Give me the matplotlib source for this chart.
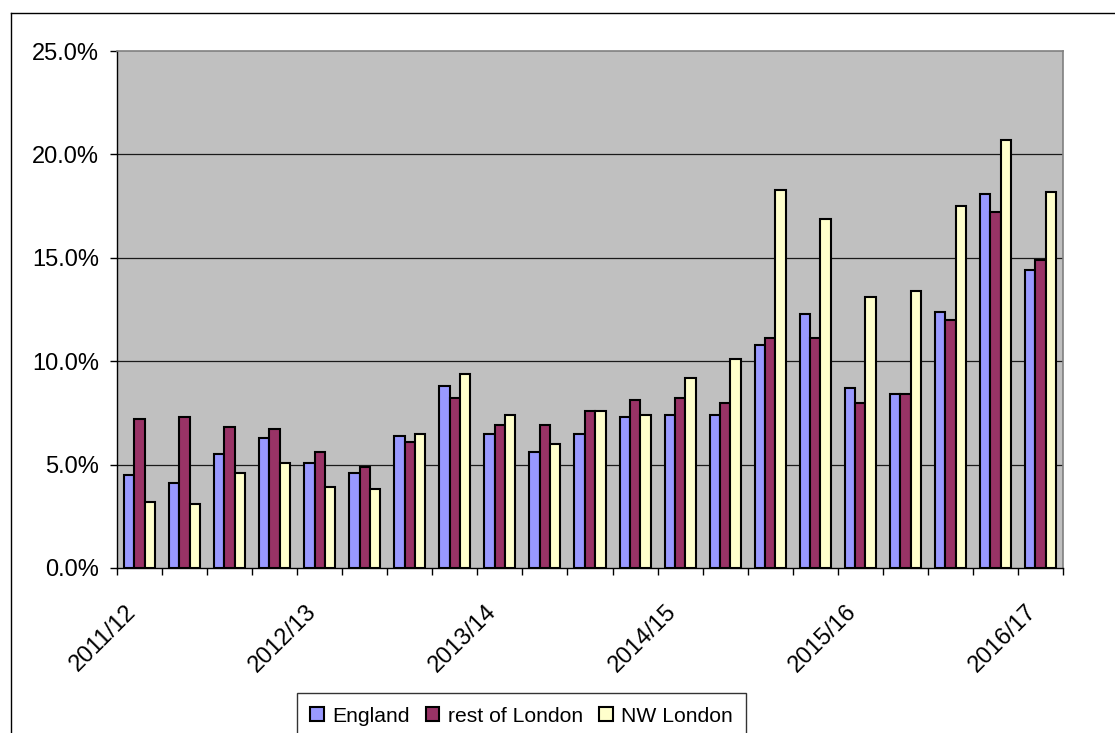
import matplotlib
matplotlib.use("Agg")
import matplotlib.pyplot as plt
from matplotlib.lines import Line2D
from matplotlib.ticker import FuncFormatter
import matplotlib.transforms as mtransforms
import numpy as np

plt.rcParams['font.family'] = ['Liberation Sans', 'DejaVu Sans']

series_names = ["England", "rest of London", "NW London"]
england = [4.5, 4.1, 5.5, 6.3, 5.1, 4.6, 6.4, 8.8, 6.5, 5.6, 6.5, 7.3, 7.4, 7.4,
           10.8, 12.3, 8.7, 8.4, 12.4, 18.1, 14.4]
rest_london = [7.2, 7.3, 6.8, 6.7, 5.6, 4.9, 6.1, 8.2, 6.9, 6.9, 7.6, 8.1, 8.2, 8.0,
               11.1, 11.1, 8.0, 8.4, 12.0, 17.2, 14.9]
nw_london = [3.2, 3.1, 4.6, 5.1, 3.9, 3.8, 6.5, 9.4, 7.4, 6.0, 7.6, 7.4, 9.2, 10.1,
             18.3, 16.9, 13.1, 13.4, 17.5, 20.7, 18.2]
label_positions = [0, 4, 8, 12, 16, 20]
tick_labels = ["2011/12", "2012/13", "2013/14", "2014/15", "2015/16", "2016/17"]
colors = ["#9999FF", "#993366", "#FFFFCC"]

W, H = 1115, 733
fig = plt.figure(figsize=(W / 100, H / 100), dpi=100)
ax = fig.add_axes([117 / W, 1 - 568 / H, (1063 - 117) / W, (568 - 51) / H])
ax.set_facecolor("#C0C0C0")

n = len(england)
x = np.arange(n)
bw = 0.23
data = [england, rest_london, nw_london]
for i, (vals, name, c) in enumerate(zip(data, series_names, colors)):
    ax.bar(x + (i - 1) * bw, np.array(vals) / 100, width=bw, color=c,
           edgecolor="black", linewidth=1.5, label=name, zorder=3)

ax.set_xlim(-0.5, n - 0.5)
ax.set_ylim(0, 0.25)
ax.set_yticks(np.arange(0, 0.2501, 0.05))
ax.yaxis.set_major_formatter(FuncFormatter(lambda v, p: f"{v*100:.1f}%"))
for yv in [0.05, 0.10, 0.15, 0.20]:
    ax.axhline(yv, color="#1a1a1a", linewidth=0.9, zorder=1)

ax.set_xticks(label_positions)
ax.set_xticklabels(tick_labels)
ax.set_xticks(np.arange(-0.5, n, 1.0), minor=True)
ax.tick_params(axis="x", which="major", length=0, pad=29, labelsize=17)
ax.tick_params(axis="x", which="minor", length=5, width=1, direction="out", color="black")
ax.tick_params(axis="y", length=5, width=1, direction="out", pad=8, labelsize=17)
offset = mtransforms.ScaledTranslation(-0.07, 0, fig.dpi_scale_trans)
for lab in ax.get_xticklabels():
    lab.set_rotation(45)
    lab.set_ha("right")
    lab.set_va("center")
    lab.set_rotation_mode("anchor")
    lab.set_transform(lab.get_transform() + offset)

for s in ["top", "right"]:
    ax.spines[s].set_color("#808080")
    ax.spines[s].set_linewidth(1.2)
for s in ["left", "bottom"]:
    ax.spines[s].set_color("black")
    ax.spines[s].set_linewidth(1.0)

leg = fig.legend(loc="upper center", bbox_to_anchor=(521.5 / W, 1 - 693 / H), ncol=3,
                 frameon=True, fancybox=False, edgecolor="black", fontsize=15.2,
                 handlelength=0.65, handleheight=0.65, handletextpad=0.4,
                 columnspacing=0.75, borderpad=0.65, borderaxespad=0)
leg.get_frame().set_linewidth(1.0)

# outer chart frame (cropped on right and bottom)
fig.add_artist(Line2D([11 / W, 11 / W], [0, 1 - 13 / H], transform=fig.transFigure,
                      color="black", linewidth=1.0))
fig.add_artist(Line2D([11 / W, 1], [1 - 13 / H, 1 - 13 / H], transform=fig.transFigure,
                      color="black", linewidth=1.0))

fig.savefig("out.png", dpi=100)
